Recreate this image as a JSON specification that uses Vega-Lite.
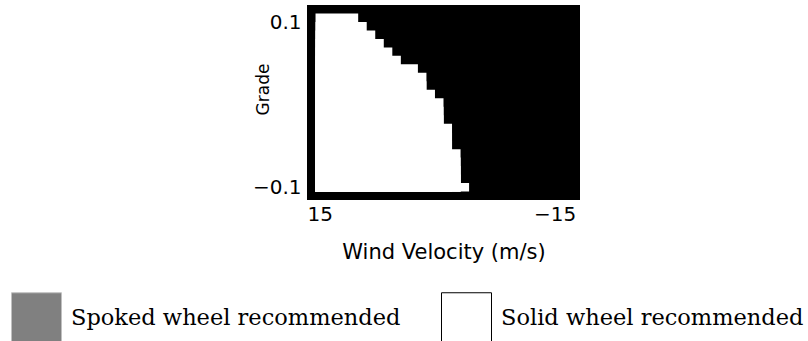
{
  "$schema": "https://vega.github.io/schema/vega-lite/v6.json",
  "autosize": {"type": "none"},
  "padding": {"left": 307, "top": 5, "right": 228, "bottom": 141},
  "width": 273,
  "height": 195,
  "background": "white",
  "config": {
    "view": {"fill": "#000000", "stroke": null},
    "axis": {"labelFont": "DejaVu Sans", "labelFontSize": 20, "labelColor": "#000000", "titleFont": "DejaVu Sans", "titleColor": "#000000", "titleFontWeight": "normal", "ticks": false, "domain": false, "grid": false}
  },
  "data": {
    "values": [
      {"grade_top": 0.105, "v_from": 15.536, "v_to": 10.179, "wheel": "Solid wheel recommended"},
      {"grade_top": 0.095, "v_from": 15.536, "v_to": 9.107, "wheel": "Solid wheel recommended"},
      {"grade_top": 0.085, "v_from": 15.536, "v_to": 8.036, "wheel": "Solid wheel recommended"},
      {"grade_top": 0.075, "v_from": 15.536, "v_to": 6.964, "wheel": "Solid wheel recommended"},
      {"grade_top": 0.065, "v_from": 15.536, "v_to": 5.893, "wheel": "Solid wheel recommended"},
      {"grade_top": 0.055, "v_from": 15.536, "v_to": 4.821, "wheel": "Solid wheel recommended"},
      {"grade_top": 0.045, "v_from": 15.536, "v_to": 2.679, "wheel": "Solid wheel recommended"},
      {"grade_top": 0.035, "v_from": 15.536, "v_to": 1.607, "wheel": "Solid wheel recommended"},
      {"grade_top": 0.025, "v_from": 15.536, "v_to": 1.607, "wheel": "Solid wheel recommended"},
      {"grade_top": 0.015, "v_from": 15.536, "v_to": 0.536, "wheel": "Solid wheel recommended"},
      {"grade_top": 0.005, "v_from": 15.536, "v_to": -0.536, "wheel": "Solid wheel recommended"},
      {"grade_top": -0.005, "v_from": 15.536, "v_to": -0.536, "wheel": "Solid wheel recommended"},
      {"grade_top": -0.015, "v_from": 15.536, "v_to": -0.536, "wheel": "Solid wheel recommended"},
      {"grade_top": -0.025, "v_from": 15.536, "v_to": -1.607, "wheel": "Solid wheel recommended"},
      {"grade_top": -0.035, "v_from": 15.536, "v_to": -1.607, "wheel": "Solid wheel recommended"},
      {"grade_top": -0.045, "v_from": 15.536, "v_to": -1.607, "wheel": "Solid wheel recommended"},
      {"grade_top": -0.055, "v_from": 15.536, "v_to": -2.679, "wheel": "Solid wheel recommended"},
      {"grade_top": -0.065, "v_from": 15.536, "v_to": -2.679, "wheel": "Solid wheel recommended"},
      {"grade_top": -0.075, "v_from": 15.536, "v_to": -2.679, "wheel": "Solid wheel recommended"},
      {"grade_top": -0.085, "v_from": 15.536, "v_to": -2.679, "wheel": "Solid wheel recommended"},
      {"grade_top": -0.095, "v_from": 15.536, "v_to": -3.750, "wheel": "Solid wheel recommended"}
    ]
  },
  "mark": {"type": "rect", "strokeWidth": 0},
  "encoding": {
    "x": {
      "field": "v_from", "type": "quantitative",
      "scale": {"domain": [16.607, -17.679], "nice": false, "zero": false},
      "axis": {"values": [15, -15], "format": "d", "labelPadding": 4, "labelBaseline": "top", "labelOffset": {"condition": {"test": "datum.value < 0", "value": -4}, "value": 0}, "title": "Wind Velocity (m/s)", "titleFontSize": 21, "titleBaseline": "alphabetic", "titleY": 58}
    },
    "x2": {"field": "v_to"},
    "y": {
      "field": "grade_top", "type": "quantitative",
      "scale": {"domain": [-0.115, 0.115], "nice": false, "zero": false},
      "axis": {"values": [0.1, -0.1], "format": ".1f", "labelPadding": 6, "labelOffset": {"condition": {"test": "datum.value > 0", "value": 5}, "value": 0}, "title": "Grade", "titleFontSize": 17, "titleAngle": 270, "titleBaseline": "alphabetic", "titleAlign": "center", "titleX": -39, "titleY": 84}
    },
    "y2": {"datum": -0.105},
    "fill": {
      "field": "wheel", "type": "nominal",
      "scale": {"domain": ["Spoked wheel recommended", "Solid wheel recommended"], "range": ["#808080", "#ffffff"]},
      "legend": {"orient": "none", "legendX": -296, "legendY": 287, "direction": "horizontal", "columns": 2, "title": null, "symbolType": "square", "symbolSize": 2500, "symbolStrokeWidth": 1, "symbolOpacity": 1, "labelFont": "DejaVu Serif", "labelFontSize": 22.5, "labelColor": "#000000", "labelOffset": 9, "columnPadding": 38, "labelLimit": 0, "padding": 0}
    },
    "stroke": {
      "field": "wheel", "type": "nominal",
      "scale": {"domain": ["Spoked wheel recommended", "Solid wheel recommended"], "range": ["#c0c0c0", "#000000"]},
      "legend": {"orient": "none", "legendX": -296, "legendY": 287, "direction": "horizontal", "columns": 2, "title": null, "symbolType": "square", "symbolSize": 2500, "symbolStrokeWidth": 1, "symbolOpacity": 1, "labelFont": "DejaVu Serif", "labelFontSize": 22.5, "labelColor": "#000000", "labelOffset": 9, "columnPadding": 38, "labelLimit": 0, "padding": 0}
    }
  }
}
